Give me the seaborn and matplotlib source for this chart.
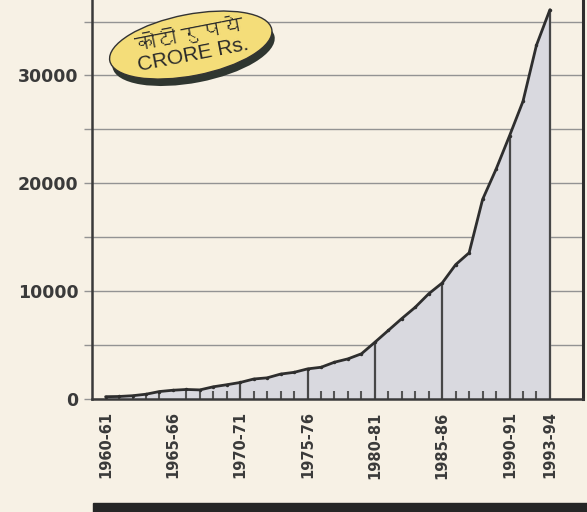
import numpy as np
import matplotlib
matplotlib.use('Agg')
import matplotlib.pyplot as plt
import matplotlib.patches as mpatches
import matplotlib.patheffects as pe
import seaborn as sns
from matplotlib import font_manager, ft2font

# values (crore rupees)
years = list(range(1960, 1994))
values = [200, 220, 290, 430, 680, 800, 870, 830, 1120, 1310,
          1520, 1840, 1950, 2300, 2460, 2780, 2930, 3400, 3710, 4180,
          5250, 6350, 7450, 8500, 9750, 10750, 12450, 13550, 18500, 21300,
          24400, 27600, 32800, 36100]
label_years = [1960, 1965, 1970, 1975, 1980, 1985, 1990, 1993]
x_labels = ['1960-61', '1965-66', '1970-71', '1975-76', '1980-81',
            '1985-86', '1990-91', '1993-94']
marker_years = [1970, 1975, 1980, 1985, 1990, 1993]
y_ticks = [0, 5000, 10000, 15000, 20000, 25000, 30000, 35000]
y_labels = ['0', '', '10000', '', '20000', '', '30000', '']
badge_text = 'कोटी रुपये\nCRORE Rs.'


def devanagari_font():
    # find any installed font that actually carries Devanagari glyphs
    for f in font_manager.fontManager.ttflist:
        try:
            ft = ft2font.FT2Font(f.fname)
            if ft.get_char_index(ord('क')):
                return f.name
        except Exception:
            pass
    return None


PAPER = '#f7f1e5'
INK = '#3a3a3a'

sns.set_theme(style='white')
plt.rcParams['font.family'] = ['DejaVu Sans']

fig = plt.figure(figsize=(5.87, 5.12), dpi=100, facecolor=PAPER)
ax = fig.add_axes([0.157, 0.221, 0.836, 0.779], facecolor=PAPER)

ax.set_axisbelow(True)
ax.yaxis.grid(True, color='#939393', linewidth=1.0)
ax.xaxis.grid(False)

ax.fill_between(years, values, 0, color='#d9d9df', zorder=1)
sns.lineplot(x=years, y=values, ax=ax, color='#2e2e2e', linewidth=2.0,
             marker='o', markersize=2.5, markeredgewidth=0, zorder=3)

# dividers every five years, from the base up to the curve
lookup = dict(zip(years, values))
ax.vlines(marker_years, 0, [lookup[y] for y in marker_years],
          color='#474747', linewidth=1.6, zorder=2)

# small inside ticks for the remaining years, kept under the curve
minor_years = [y for y in years if y not in label_years]
ax.vlines(minor_years, 0, [min(lookup[y] * 0.8, 750) for y in minor_years],
          color='#555555', linewidth=1.5, zorder=2)

ax.set_xlim(1959.0, 1995.45)
ax.set_ylim(0, 37000)
ax.set_xticks(label_years, x_labels, rotation=90)
ax.set_yticks(y_ticks, y_labels)
ax.tick_params(axis='x', length=0, pad=9, labelsize=10.5, labelcolor=INK)
ax.tick_params(axis='y', left=True, length=6, width=1, color='#939393',
               pad=4, labelsize=12.5, labelcolor=INK)
for lab in ax.get_xticklabels() + ax.get_yticklabels():
    lab.set_fontweight('bold')

ax.spines['top'].set_visible(False)
ax.spines['left'].set_color('#3a3a3a')
ax.spines['left'].set_linewidth(1.8)
ax.spines['bottom'].set_color('#3a3a3a')
ax.spines['bottom'].set_linewidth(1.8)
ax.spines['right'].set_color('#2e2e2e')
ax.spines['right'].set_linewidth(2.2)
ax.set_xlabel('')
ax.set_ylabel('')

# yellow unit badge
dev = devanagari_font()
fams = ['Liberation Sans', dev] if dev else ['Liberation Sans']
badge = fig.text(0.325, 0.912, badge_text, rotation=11, ha='center', va='center',
                 ma='center', fontsize=15, color='#2a2a2a', family=fams,
                 linespacing=1.0,
                 bbox=dict(boxstyle='ellipse,pad=0.1', facecolor='#f4dd79',
                           edgecolor='#333333', linewidth=1.0))
badge.get_bbox_patch().set_path_effects(
    [pe.withSimplePatchShadow(offset=(2, -5), shadow_rgbFace='#2f3630', alpha=1.0)])

# dark strip along the bottom of the page
fig.add_artist(mpatches.Rectangle((0.158, 0.0), 0.842, 0.018,
                                  transform=fig.transFigure, color='#262626'))

fig.savefig('out.png', dpi=100, facecolor=PAPER)
